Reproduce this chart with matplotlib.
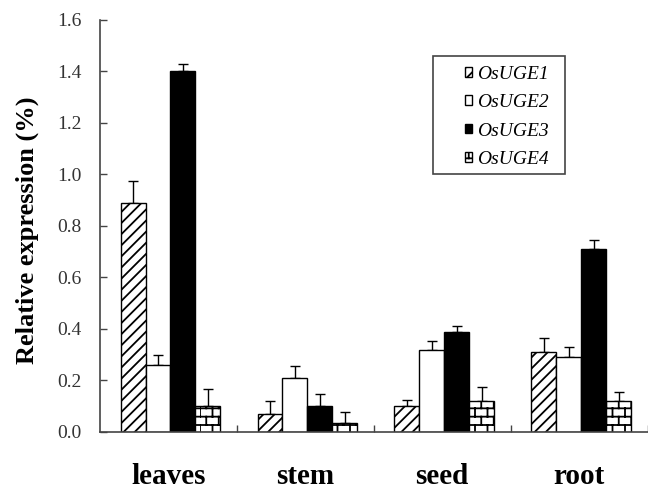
import numpy as np
import matplotlib
matplotlib.use('Agg')
import matplotlib.pyplot as plt
from matplotlib import hatch as mhatch
from matplotlib.path import Path
from matplotlib.patches import Rectangle

# tissues and the four genes
tissues = ['leaves', 'stem', 'seed', 'root']
genes = ['OsUGE1', 'OsUGE2', 'OsUGE3', 'OsUGE4']

uge1 = [0.89, 0.07, 0.10, 0.31]
uge2 = [0.26, 0.21, 0.32, 0.29]
uge3 = [1.40, 0.10, 0.39, 0.71]
uge4 = [0.10, 0.035, 0.12, 0.12]

# upper error (standard deviation)
uge1_err = [0.085, 0.05, 0.025, 0.055]
uge2_err = [0.04, 0.045, 0.035, 0.04]
uge3_err = [0.03, 0.047, 0.02, 0.035]
uge4_err = [0.065, 0.042, 0.055, 0.035]

yticks = [0.0, 0.2, 0.4, 0.6, 0.8, 1.0, 1.2, 1.4, 1.6]


# brick hatch, used for OsUGE4 (matplotlib has none built in)
class BrickHatch(mhatch.HatchPatternBase):
    def __init__(self, hatch, density):
        n = hatch.count('b')
        self.rows = 12 * n
        self.cols = 8
        self.num_vertices = self.rows * (2 + 2 * self.cols) if n else 0

    def set_vertices_and_codes(self, vertices, codes):
        i = 0
        dy = 1.0 / self.rows
        dx = 1.0 / self.cols
        for r in range(self.rows):
            y0 = r * dy
            vertices[i] = (0.0, y0)
            vertices[i + 1] = (1.0, y0)
            codes[i] = Path.MOVETO
            codes[i + 1] = Path.LINETO
            i += 2
            off = 0.0 if r % 2 == 0 else dx / 2
            for c in range(self.cols):
                x0 = c * dx + off
                vertices[i] = (x0, y0)
                vertices[i + 1] = (x0, y0 + dy)
                codes[i] = Path.MOVETO
                codes[i + 1] = Path.LINETO
                i += 2


mhatch._hatch_types.append(BrickHatch)

plt.rcParams['font.family'] = 'Liberation Serif'
plt.rcParams['hatch.linewidth'] = 1.3

fig = plt.figure(figsize=(6.48, 4.9), dpi=100)
ax = fig.add_axes([0.1543, 0.1184, 0.845, 0.8408])

x = np.arange(len(tissues))
w = 0.182
series = [uge1, uge2, uge3, uge4]
errs = [uge1_err, uge2_err, uge3_err, uge4_err]
faces = ['white', 'white', 'black', 'white']
hatches = ['///', None, None, 'b']

handles = []
for i in range(4):
    pos = x + (i - 1.5) * w + 0.015
    b = ax.bar(pos, series[i], w, color=faces[i], edgecolor='black',
               linewidth=1.0, hatch=hatches[i], label=genes[i], zorder=2)
    ax.errorbar(pos, series[i], yerr=[np.zeros(4), errs[i]], fmt='none',
                ecolor='black', elinewidth=1.0, capsize=3.5, capthick=1.0,
                zorder=1)
    handles.append(b)

ax.set_xlim(-0.5, 3.5)
ax.set_ylim(0, 1.6)
ax.set_yticks(yticks)
ax.set_yticklabels(['%.1f' % t for t in yticks], fontsize=14, color='#333333')
ax.set_xticks(x)
ax.set_xticklabels(tissues, fontsize=21, fontweight='bold')
ax.set_xticks([0.5, 1.5, 2.5, 3.5], minor=True)
ax.tick_params(axis='x', which='major', length=0, pad=22)
ax.tick_params(axis='x', which='minor', direction='in', length=5, width=1, color='#444444')
ax.tick_params(axis='y', direction='in', length=5, width=1, color='#444444', pad=13)

for s in ['top', 'right']:
    ax.spines[s].set_visible(False)
for s in ['left', 'bottom']:
    ax.spines[s].set_color('#444444')
    ax.spines[s].set_linewidth(1.2)

ax.set_ylabel('Relative expression (%)', fontsize=19, fontweight='bold')
ax.yaxis.set_label_coords(-0.112, 0.49)

leg = ax.legend(handles=handles, loc='upper left', bbox_to_anchor=(0.648, 0.912),
                frameon=False, prop={'style': 'italic', 'size': 14},
                handlelength=0.4, handleheight=0.4, handletextpad=0.25,
                labelspacing=0.58, borderpad=0)
ax.add_patch(Rectangle((0.609, 0.626), 0.24, 0.287, transform=ax.transAxes,
                       facecolor='none', edgecolor='#444444', linewidth=1.2,
                       zorder=3))

fig.savefig('out.png', dpi=100)
